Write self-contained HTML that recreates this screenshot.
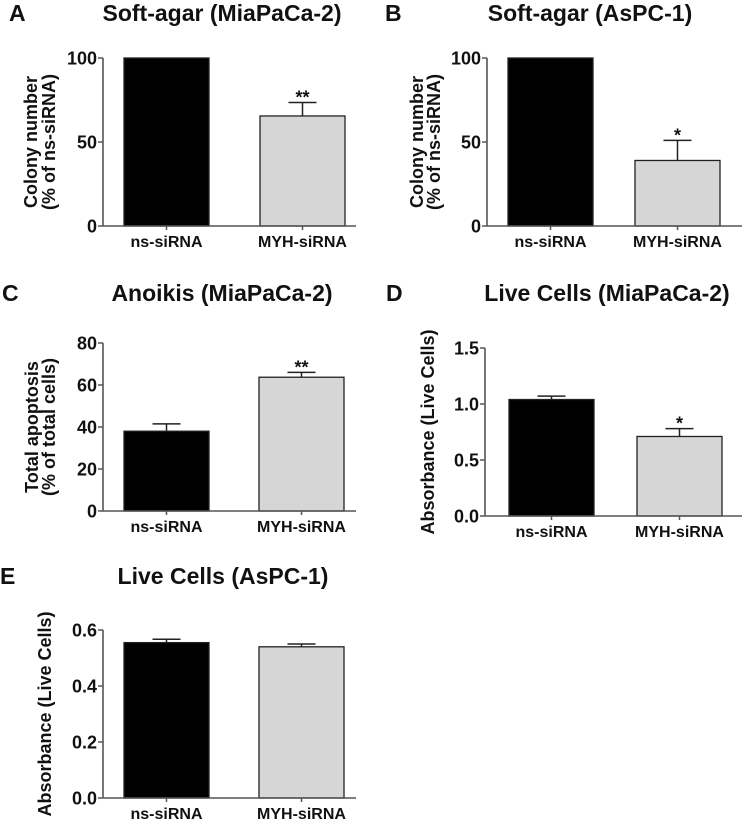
<!DOCTYPE html>
<html><head><meta charset="utf-8"><style>
body{margin:0;background:#fff;}
svg text{font-family:"Liberation Sans",Arial,sans-serif;font-weight:bold;fill:#111;}
</style></head><body>
<svg id="fig" width="743" height="820" xmlns="http://www.w3.org/2000/svg"></svg>
<script>
const categories = ["ns-siRNA", "MYH-siRNA"];
const valuesA = [100, 65.5];  const errA = [0, 8];
const valuesB = [100, 39];    const errB = [0, 12];
const valuesC = [38, 63.7];   const errC = [3.5, 2.3];
const valuesD = [1.04, 0.71]; const errD = [0.03, 0.07];
const valuesE = [0.555, 0.54];const errE = [0.012, 0.01];
const ticksA = [0, 50, 100];
const ticksB = [0, 50, 100];
const ticksC = [0, 20, 40, 60, 80];
const ticksD = [0.0, 0.5, 1.0, 1.5];
const ticksE = [0.0, 0.2, 0.4, 0.6];
const starsA = ["", "**"], starsB = ["", "*"], starsC = ["", "**"], starsD = ["", "*"], starsE = ["", ""];

const NS = "http://www.w3.org/2000/svg";
const svg = document.getElementById("fig");
function mk(tag, attrs, parent, text) {
  const e = document.createElementNS(NS, tag);
  for (const k in attrs) e.setAttribute(k, attrs[k]);
  if (text !== undefined) e.textContent = text;
  (parent || svg).appendChild(e);
  return e;
}
function panel(p) {
  const g = mk("g", {});
  
  
  const y = v => p.y0 - (v - p.ticks[0]) / (p.ticks[p.ticks.length - 1] - p.ticks[0]) * (p.y0 - p.yTop);
  const letter = mk("text", {x: p.lx, y: p.titleY, "font-size": 23}, g, p.letter);
  
  
  const title = mk("text", {x: p.tx, y: p.titleY, "font-size": 23, "text-anchor": "middle"}, g, p.title);
  
  
  p.values.forEach((v, i) => {
    const x0 = p.barX[i], w = p.barW;
    const ey = y(v + p.err[i]);
    if (p.err[i] > 0) {
      const el = mk("line", {x1: x0 + w / 2, x2: x0 + w / 2, y1: y(v), y2: ey, stroke: "#222", "stroke-width": 1.5}, g);
      
      
      const cap = mk("line", {x1: x0 + w / 2 - 14, x2: x0 + w / 2 + 14, y1: ey, y2: ey, stroke: "#222", "stroke-width": 1.5}, g);
      
      
    }
    const r = mk("rect", {x: x0, y: y(v), width: w, height: p.y0 - y(v), fill: i === 0 ? "#000" : "#d6d6d6", stroke: "#222", "stroke-width": 1.3}, g);
    
    
    if (p.stars[i]) {
      const s = mk("text", {x: x0 + w / 2, y: ey + 1, "font-size": 18, "text-anchor": "middle"}, g, p.stars[i]);
      
      
    }
    const lab = mk("text", {x: x0 + w / 2, y: p.y0 + 21, "font-size": 16, "text-anchor": "middle"}, g, categories[i]);
    
    
  });
  const ya = mk("line", {x1: p.ax, x2: p.ax, y1: p.yTop, y2: p.y0, stroke: "#555", "stroke-width": 1.6}, g);
  
  
  const xa = mk("line", {x1: p.ax, x2: p.axEnd, y1: p.y0, y2: p.y0, stroke: "#555", "stroke-width": 1.6}, g);
  
  
  p.values.forEach((v, i) => {
    const c = p.barX[i] + p.barW / 2;
    mk("line", {x1: c, x2: c, y1: p.y0, y2: p.y0 + 4, stroke: "#555", "stroke-width": 1.5}, g);
  });
  p.ticks.forEach(t => {
    mk("line", {x1: p.ax - 5, x2: p.ax, y1: y(t), y2: y(t), stroke: "#555", "stroke-width": 1.5}, g);
    const tl = mk("text", {x: p.ax - 6, y: y(t) + 6.5, "font-size": 18, "text-anchor": "end"}, g, p.fmt(t));
    
    
  });
  const cy = (p.yTop + p.y0) / 2;
  p.ylab.forEach((line, k) => {
    const lx = p.ylx[k];
    const yl = mk("text", {x: lx, y: cy, "font-size": 18, "text-anchor": "middle", transform: `rotate(-90 ${lx} ${cy})`}, g, line);
    
    
  });
}
const int = t => String(t), dec = t => t.toFixed(1);
panel({letter:"A", lx:9, tx:222, titleY:21, title:"Soft-agar (MiaPaCa-2)", ax:103, axEnd:356, yTop:58, y0:226,
  barX:[124,260], barW:85, values:valuesA, err:errA, ticks:ticksA, stars:starsA, fmt:int,
  ylab:["Colony number","(% of ns-siRNA)"], ylx:[37,55]});
panel({letter:"B", lx:385, tx:590, titleY:21, title:"Soft-agar (AsPC-1)", ax:487, axEnd:742, yTop:58, y0:226,
  barX:[508,635], barW:85, values:valuesB, err:errB, ticks:ticksB, stars:starsB, fmt:int,
  ylab:["Colony number","(% of ns-siRNA)"], ylx:[423,440]});
panel({letter:"C", lx:2, tx:222, titleY:301, title:"Anoikis (MiaPaCa-2)", ax:103, axEnd:356, yTop:343, y0:511,
  barX:[124,259], barW:85, values:valuesC, err:errC, ticks:ticksC, stars:starsC, fmt:int,
  ylab:["Total apoptosis","(% of total cells)"], ylx:[38,55]});
panel({letter:"D", lx:386, tx:607, titleY:301, title:"Live Cells (MiaPaCa-2)", ax:485, axEnd:742, yTop:348, y0:516,
  barX:[509,637], barW:85, values:valuesD, err:errD, ticks:ticksD, stars:starsD, fmt:dec,
  ylab:["Absorbance (Live Cells)"], ylx:[434]});
panel({letter:"E", lx:0, tx:223, titleY:584, title:"Live Cells (AsPC-1)", ax:103, axEnd:356, yTop:630, y0:798,
  barX:[124,259], barW:85, values:valuesE, err:errE, ticks:ticksE, stars:starsE, fmt:dec,
  ylab:["Absorbance (Live Cells)"], ylx:[51]});
</script>
</body></html>
